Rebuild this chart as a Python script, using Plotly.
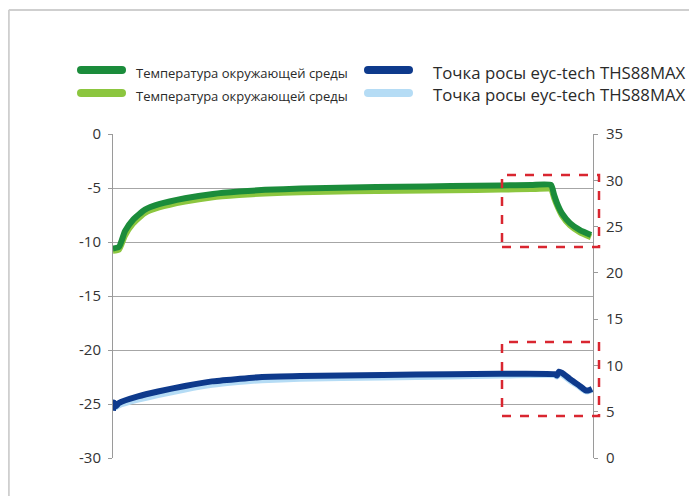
import plotly.graph_objects as go

# ---------------- data ----------------
t_green = [0, 3, 6, 10, 16, 23, 36, 50, 63, 76, 94, 119, 144, 169, 194, 209, 219, 220.5, 222, 224.5, 228.5, 233.5, 239]
amb_dark = [-10.6, -10.45, -9.0, -7.95, -7.0, -6.5, -5.95, -5.55, -5.33, -5.17, -5.05, -4.95, -4.88, -4.82, -4.76, -4.72, -4.72, -5.6, -6.4, -7.35, -8.25, -8.9, -9.35]
amb_light = [-10.8, -10.7, -9.4, -8.3, -7.3, -6.8, -6.25, -5.85, -5.65, -5.5, -5.4, -5.3, -5.25, -5.2, -5.15, -5.1, -5.1, -5.9, -6.6, -7.55, -8.45, -9.1, -9.55]

t_blue = [0, 0.5, 1.5, 3, 12.5, 22.5, 36, 49.5, 62.5, 74.5, 93.5, 135, 168.5, 193.5, 221, 222, 223, 224.5, 228.5, 232.5, 236, 237.5, 239.5]
dew_dark = [5.1, 6.0, 5.6, 5.95, 6.65, 7.18, 7.78, 8.28, 8.54, 8.75, 8.85, 8.97, 9.05, 9.1, 9.05, 8.9, 9.33, 9.2, 8.52, 7.93, 7.35, 7.29, 7.47]
dew_light = [5.3, 5.5, 5.5, 5.7, 6.3, 6.8, 7.4, 7.9, 8.2, 8.4, 8.55, 8.7, 8.8, 8.9, 8.95, 8.8, 9.1, 9.0, 8.35, 7.8, 7.25, 7.2, 7.35]

name_amb = "Температура окружающей среды"
name_dew = "Точка росы eyc-tech THS88MAX"

left_ticks = [0, -5, -10, -15, -20, -25, -30]
left_text = ["0", "-5", "-10", "-15", "-20", "-25", "-30"]
right_ticks = [0, 5, 10, 15, 20, 25, 30, 35]

# ---------------- colours ----------------
C_DG = "#1b8c3b"
C_LG = "#8cc63f"
C_DB = "#0e3a8c"
C_LB = "#b5dcf5"
RED = "#d92630"

fig = go.Figure()
for (xs, ys, nm, col, ax) in [(t_green, amb_light, name_amb, C_LG, "y"),
                              (t_green, amb_dark, name_amb, C_DG, "y"),
                              (t_blue, dew_light, name_dew, C_LB, "y2"),
                              (t_blue, dew_dark, name_dew, C_DB, "y2")]:
    fig.add_trace(go.Scatter(x=xs, y=ys, mode="lines", name=nm,
                             line=dict(color=col, width=6, shape="spline", smoothing=0.5),
                             yaxis=ax, showlegend=False))

OFF = 8  # page body margin
W, H = 697 - OFF, 496 - OFF
L, R, T, B = 113, 593, 134, 458  # plot area in screenshot coordinates


def px(x):
    return (x - L) / (R - L)


def py(y):
    return (B - y) / (B - T)


shapes = []
# outer frame (top and left)
shapes.append(dict(type="line", xref="paper", yref="paper", x0=px(8.8), x1=px(720), y0=py(10), y1=py(10),
                   line=dict(color="#cfcfcf", width=2)))
shapes.append(dict(type="line", xref="paper", yref="paper", x0=px(8.8), x1=px(8.8), y0=py(10), y1=py(520),
                   line=dict(color="#cfcfcf", width=2)))
# red dashed boxes
for (x0, x1, y0, y1) in [(502, 599, 175, 247), (502, 599, 342, 416)]:
    shapes.append(dict(type="rect", xref="paper", yref="paper", x0=px(x0), x1=px(x1), y0=py(y1), y1=py(y0),
                       line=dict(color=RED, width=2.5, dash="dash"), fillcolor="rgba(0,0,0,0)"))


# legend bars (rounded)
def bar(x0, x1, yc, color, h=8):
    r = h / 2
    X = lambda v: px(v)
    Y = lambda v: py(v)
    path = (f"M {X(x0 + r)},{Y(yc - r)} L {X(x1 - r)},{Y(yc - r)} "
            f"Q {X(x1)},{Y(yc - r)} {X(x1)},{Y(yc)} Q {X(x1)},{Y(yc + r)} {X(x1 - r)},{Y(yc + r)} "
            f"L {X(x0 + r)},{Y(yc + r)} Q {X(x0)},{Y(yc + r)} {X(x0)},{Y(yc)} "
            f"Q {X(x0)},{Y(yc - r)} {X(x0 + r)},{Y(yc - r)} Z")
    return dict(type="path", xref="paper", yref="paper", path=path, fillcolor=color,
                line=dict(width=0))


shapes.append(bar(77, 126, 70, C_DG))
shapes.append(bar(77, 126, 93, C_LG))
shapes.append(bar(364, 413, 70, C_DB))
shapes.append(bar(364, 413, 93, C_LB))

annotations = []
for (txt, x, y, size) in [(name_amb, 134, 73, 13), (name_amb, 134, 95.5, 13),
                          (name_dew, 431, 72, 16.8), (name_dew, 431, 95, 16.8)]:
    annotations.append(dict(text=txt, xref="paper", yref="paper", x=px(x), y=py(y),
                            xanchor="left", yanchor="middle", showarrow=False,
                            font=dict(family="Open Sans", size=size, color="#2a2a2a")))

fig.update_layout(
    width=W, height=H,
    margin=dict(l=L - OFF, r=W - (R - OFF), t=T - OFF, b=H - (B - OFF), pad=0),
    paper_bgcolor="white", plot_bgcolor="white",
    font=dict(family="Open Sans", size=15, color="#333333"),
    showlegend=False,
    xaxis=dict(range=[0, 240], showgrid=False, zeroline=False, showticklabels=False,
               showline=False, ticks=""),
    yaxis=dict(range=[-30, 0], tickvals=left_ticks, ticktext=left_text,
               showgrid=True, gridcolor="#a6a6a6", gridwidth=1, zeroline=False,
               showline=True, linecolor="#9a9a9a", linewidth=1,
               ticks="outside", ticklen=4, tickcolor="#9a9a9a", ticklabelstandoff=4,
               tickfont=dict(family="Open Sans", size=15, color="#333333")),
    yaxis2=dict(range=[0, 35], tickvals=right_ticks, overlaying="y", side="right",
                showgrid=False, zeroline=False,
                showline=True, linecolor="#9a9a9a", linewidth=1,
                ticks="outside", ticklen=4, tickcolor="#9a9a9a", ticklabelstandoff=5,
                tickfont=dict(family="Open Sans", size=15, color="#333333")),
    shapes=shapes,
    annotations=annotations,
)

fig.write_html("out.html")
